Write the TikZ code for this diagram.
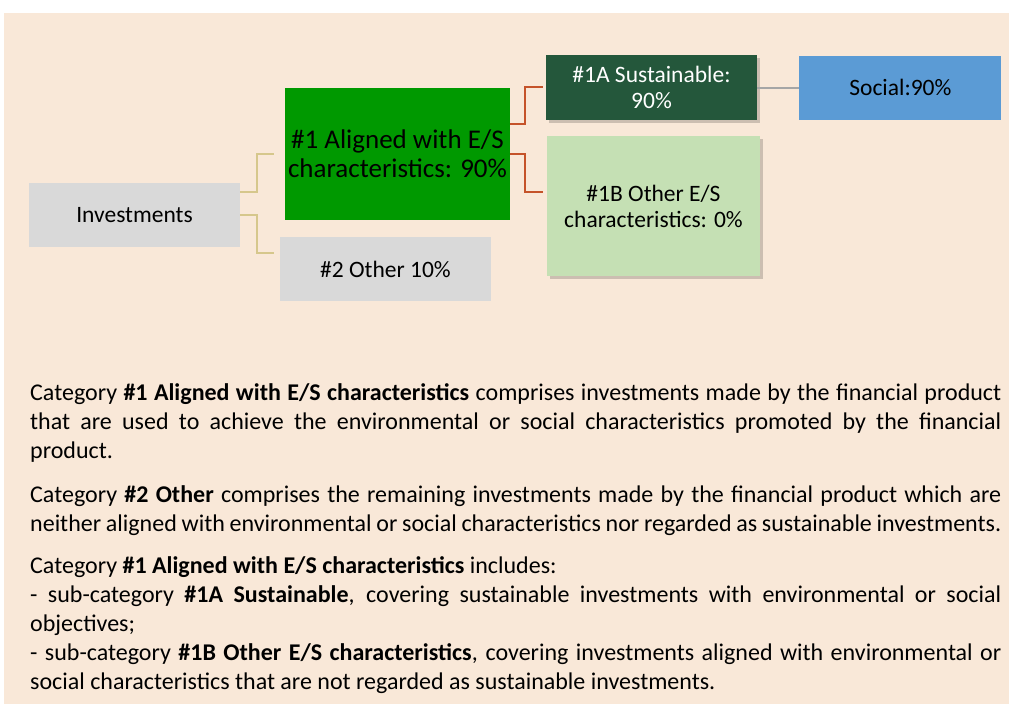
\documentclass[tikz,border=0pt]{standalone}
\usepackage{fontspec}
\setmainfont{Carlito}
\usepackage{tikz}
\usetikzlibrary{positioning,shadows}
\setlength{\parindent}{0pt}
\setlength{\parskip}{0pt}

\definecolor{bgcolor}{RGB}{249,232,216}
\definecolor{boxgray}{RGB}{217,217,217}
\definecolor{boxgreen}{RGB}{0,153,0}
\definecolor{boxdark}{RGB}{36,87,59}
\definecolor{boxlight}{RGB}{197,224,180}
\definecolor{boxblue}{RGB}{91,155,213}
\definecolor{linetan}{RGB}{214,199,140}
\definecolor{linered}{RGB}{197,83,42}
\definecolor{linegray}{RGB}{166,166,166}

\begin{document}
\begin{tikzpicture}[x=1pt, y=-1pt,
boxnode/.style={rectangle, inner sep=2pt, align=center, font=\fontsize{23.5}{26}\selectfont},
graynode/.style={boxnode, fill=boxgray, minimum width=211pt, minimum height=64pt},
greennode/.style={boxnode, fill=boxgreen, minimum width=225pt, minimum height=132pt, font=\fontsize{27}{29}\selectfont},
darknode/.style={boxnode, fill=boxdark, text=white, minimum width=211pt, minimum height=65pt, drop shadow={shadow xshift=3pt, shadow yshift=-3pt, fill=black, opacity=0.18}},
lightnode/.style={boxnode, fill=boxlight, minimum width=213pt, minimum height=140pt, drop shadow={shadow xshift=3pt, shadow yshift=-3pt, fill=black, opacity=0.18}},
bluenode/.style={boxnode, fill=boxblue, minimum width=202pt, minimum height=64pt},
textblock/.style={anchor=north west, inner sep=0pt, text width=971pt, align=justify, font=\fontsize{24}{29}\selectfont},
tanline/.style={draw=linetan, line width=2pt},
redline/.style={draw=linered, line width=2pt},
grayline/.style={draw=linegray, line width=2pt},
]
\useasboundingbox (0,0) rectangle (1009,704);
\fill[bgcolor] (4,13) rectangle (1009,704);

%Nodes
\node[graynode]   (inv)     at (134.5,215)  {Investments};
\node[greennode]  (aligned) at (397.5,154)  {\#1 Aligned with E/S\\characteristics: 90\%};
\node[graynode]   (other)   at (385.5,269)  {\#2 Other 10\%};
\node[darknode]   (sus)     at (651.5,87.5) {\#1A Sustainable:\\90\%};
\node[lightnode]  (otheres) at (653.5,206)  {\#1B Other E/S\\characteristics: 0\%};
\node[bluenode]   (social)  [right=42pt of sus] {Social:90\%};

\node[textblock] (catone) at (30,379.7) {\strut Category \textbf{\#1 Aligned with E/S characteristics} comprises investments made by the financial product\linebreak that are used to achieve the environmental or social characteristics promoted by the financial\linebreak product.};
\node[textblock] (cattwo) at (30,481.7) {\parfillskip=0pt\strut Category \textbf{\#2 Other} comprises the remaining investments made by the financial product which are\linebreak neither aligned with environmental or social characteristics nor regarded as sustainable investments.\par};
\node[textblock] (catsub) at (30,553) {\strut Category \textbf{\#1 Aligned with E/S characteristics} includes:\par
- sub-category \textbf{\#1A Sustainable}, covering sustainable investments with environmental or social\linebreak objectives;\par
- sub-category \textbf{\#1B Other E/S characteristics}, covering investments aligned with environmental or\linebreak social characteristics that are not regarded as sustainable investments.};

%Lines
\draw[tanline, shorten >=11pt] (inv.east |- 0,192) -| (257,154) -- (aligned.west);
\draw[tanline, shorten >=6pt] (inv.east) -| (257,253) -- (other.west |- 0,253);
\draw[redline, shorten >=3pt] (aligned.east |- 0,124) -| (525,87) -- (sus.west |- 0,87);
\draw[redline, shorten >=4pt] (aligned.east) -| (525,192) -- (otheres.west |- 0,192);
\draw[grayline] (sus) -- (social);

\end{tikzpicture}
\end{document}
